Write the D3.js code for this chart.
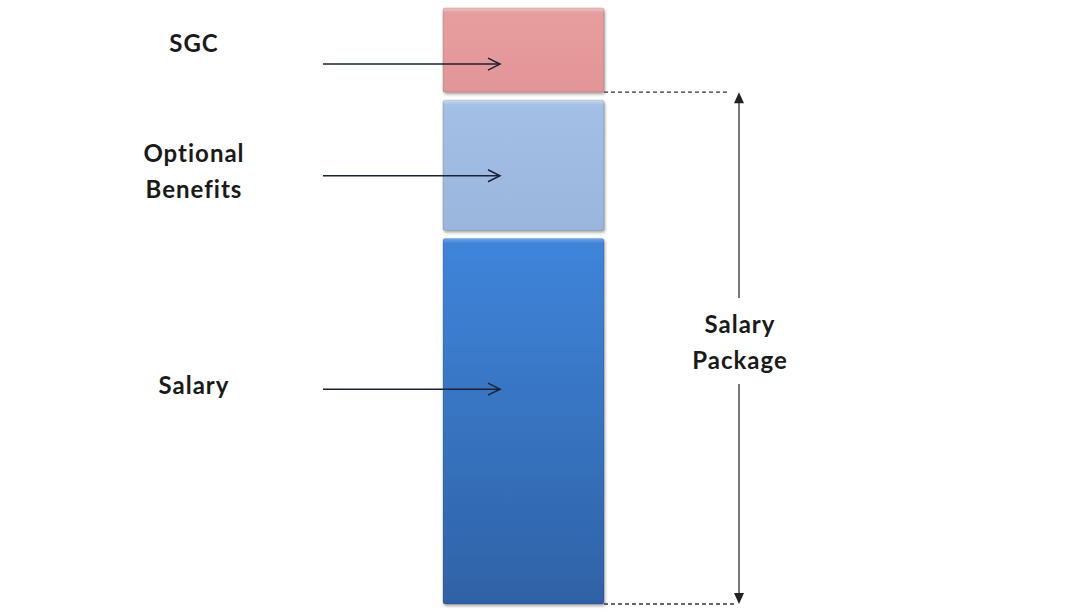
<!DOCTYPE html>
<html>
<head>
<meta charset="utf-8">
<script src="https://cdn.jsdelivr.net/npm/d3@7"></script>
<style>
  body { margin: 0; background: #fff; }
  svg { display: block; }
  .lbl { font-family: Lato, "Open Sans", sans-serif; font-weight: 700; font-size: 24px; letter-spacing: 1px; fill: #1a1a1a; }
</style>
</head>
<body>
<div id="chart"></div>
<script>
// Chart data (bottom to top)
var segments = ["Salary", "Optional Benefits", "SGC"];
var values = [73, 27.6, 18.4];
var labelLines = [["Salary"], ["Optional", "Benefits"], ["SGC"]];
// where the pointer arrows and the labels sit, in value units
var arrowAt = [42.9, 85.5, 107.8];
var labelAt = [43.5, 86.3, 111.8];
var bracketLines = ["Salary", "Package"];
var bracketSegments = ["Salary", "Optional Benefits"];

var svgWidth = 1089;
var svgHeight = 612;

var svg = d3.select("#chart")
  .append("svg")
  .attr("width", svgWidth)
  .attr("height", svgHeight);

var total = d3.sum(values);
var ends = d3.cumsum(values);
var gap = 8;

var y = d3.scaleLinear().domain([0, total]).range([604, 8]);
var x = d3.scaleBand().domain(["bar"]).range([443, 604]);

// gradients + shadow
var defs = svg.append("defs");
var colors = {
  "Salary": ["#6aa6ec", "#3f84da", "#2f62a6"],
  "Optional Benefits": ["#c9dcf5", "#a3bfe6", "#9bb6dd"],
  "SGC": ["#f3c4c4", "#e79d9e", "#e29596"]
};
segments.forEach(function(s, i) {
  var g = defs.append("linearGradient")
    .attr("id", "grad" + i)
    .attr("x1", 0).attr("y1", 0).attr("x2", 0).attr("y2", 1);
  var c = colors[s];
  var edge = 5 / (y(ends[i] - values[i]) - y(ends[i]));
  g.append("stop").attr("offset", 0).attr("stop-color", c[0]);
  g.append("stop").attr("offset", edge).attr("stop-color", c[1]);
  g.append("stop").attr("offset", 1).attr("stop-color", c[2]);
});
var f = defs.append("filter").attr("id", "shadow")
  .attr("x", "-10%").attr("y", "-10%").attr("width", "120%").attr("height", "120%");
f.append("feDropShadow")
  .attr("dx", 1).attr("dy", 2).attr("stdDeviation", 1.6)
  .attr("flood-color", "#000").attr("flood-opacity", 0.35);

// bar segments, a small gap under every segment but the bottom one
svg.selectAll("rect.seg")
  .data(segments)
  .enter()
  .append("rect")
  .attr("class", "seg")
  .attr("x", x("bar"))
  .attr("width", x.bandwidth())
  .attr("y", (d, i) => y(ends[i]))
  .attr("height", (d, i) => y(ends[i] - values[i]) - y(ends[i]) - (i === 0 ? 0 : gap))
  .attr("rx", 2)
  .attr("fill", (d, i) => "url(#grad" + i + ")")
  .attr("stroke", "rgba(0,0,0,0.15)")
  .attr("stroke-width", 1)
  .attr("filter", "url(#shadow)");

// pointer arrows
var arrowX0 = 323, arrowX1 = 500;
var arrows = svg.selectAll("g.ptr")
  .data(segments)
  .enter()
  .append("g")
  .attr("class", "ptr")
  .attr("transform", (d, i) => `translate(0, ${y(arrowAt[i])})`);
arrows.append("line")
  .attr("x1", arrowX0).attr("x2", arrowX1)
  .attr("y1", 0).attr("y2", 0)
  .attr("stroke", "#1a2233").attr("stroke-width", 1.5);
arrows.append("path")
  .attr("d", `M${arrowX1 - 12},-6 L${arrowX1},0 L${arrowX1 - 12},6`)
  .attr("fill", "none")
  .attr("stroke", "#1a2233").attr("stroke-width", 1.5);

// segment labels
var lineH = 36;
svg.selectAll("text.seglbl")
  .data(segments)
  .enter()
  .append("text")
  .attr("class", "lbl seglbl")
  .attr("text-anchor", "middle")
  .attr("x", 194)
  .attr("y", (d, i) => y(labelAt[i]) + 8 - (labelLines[i].length - 1) * lineH / 2)
  .each(function(d, i) {
    var t = d3.select(this);
    labelLines[i].forEach(function(l, j) {
      t.append("tspan").attr("x", 194).attr("dy", j === 0 ? 0 : lineH).text(l);
    });
  });

// salary package bracket
var pkgValue = d3.sum(bracketSegments.map(s => values[segments.indexOf(s)]));
var topY = y(pkgValue) - gap;
var botY = y(0);
var bx = 739;
var barRight = x("bar") + x.bandwidth();

svg.append("line")
  .attr("x1", barRight).attr("x2", bx - 9)
  .attr("y1", topY).attr("y2", topY)
  .attr("stroke", "#333").attr("stroke-width", 1.3)
  .attr("stroke-dasharray", "4,3");
svg.append("line")
  .attr("x1", barRight).attr("x2", bx - 4)
  .attr("y1", botY).attr("y2", botY)
  .attr("stroke", "#333").attr("stroke-width", 1.3)
  .attr("stroke-dasharray", "4,3");

var midY = 346;
svg.append("line")
  .attr("x1", bx).attr("x2", bx)
  .attr("y1", topY + 8).attr("y2", 298)
  .attr("stroke", "#555").attr("stroke-width", 1.6);
svg.append("line")
  .attr("x1", bx).attr("x2", bx)
  .attr("y1", 384).attr("y2", botY - 8)
  .attr("stroke", "#555").attr("stroke-width", 1.6);
svg.append("path")
  .attr("d", `M${bx},${topY} L${bx - 5},${topY + 11} L${bx + 5},${topY + 11} Z`)
  .attr("fill", "#222");
svg.append("path")
  .attr("d", `M${bx},${botY} L${bx - 5},${botY - 11} L${bx + 5},${botY - 11} Z`)
  .attr("fill", "#222");

svg.append("text")
  .attr("class", "lbl")
  .attr("text-anchor", "middle")
  .selectAll("tspan")
  .data(bracketLines)
  .enter()
  .append("tspan")
  .attr("x", bx + 1)
  .attr("y", (d, i) => midY - lineH / 2 + 8 + i * lineH - 3)
  .text(d => d);
</script>
</body>
</html>
